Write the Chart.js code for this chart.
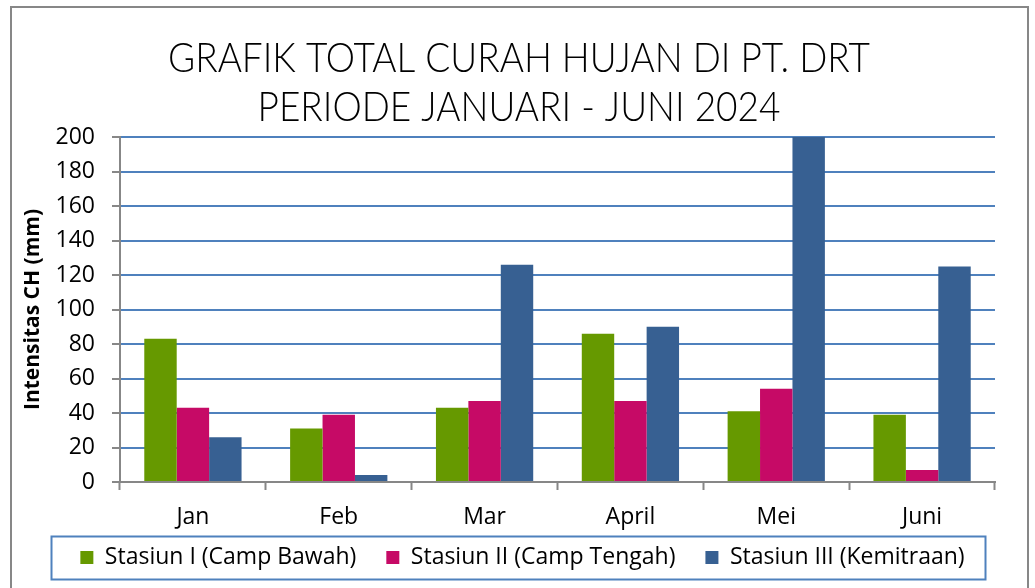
<!DOCTYPE html>
<html>
<head>
<meta charset="utf-8">
<script src="https://cdn.jsdelivr.net/npm/chart.js@4.4.1/dist/chart.umd.min.js"></script>
<style>
  html, body { margin: 0; padding: 0; background: #ffffff; }
  #wrap { width: 1035px; height: 588px; position: relative; }
</style>
</head>
<body>
<div id="wrap"><canvas id="c"></canvas></div>
<script>
const TITLE_LINES = ['GRAFIK TOTAL CURAH HUJAN DI PT. DRT', 'PERIODE JANUARI - JUNI 2024'];
const CATEGORIES = ['Jan', 'Feb', 'Mar', 'April', 'Mei', 'Juni'];
const SERIES_NAMES = ['Stasiun I (Camp Bawah)', 'Stasiun II (Camp Tengah)', 'Stasiun III (Kemitraan)'];
const STASIUN_I = [83, 31, 43, 86, 41, 39];
const STASIUN_II = [43, 39, 47, 47, 54, 7];
const STASIUN_III = [26, 4, 126, 90, 200, 125];
const Y_AXIS_TITLE = 'Intensitas CH (mm)';
const Y_MIN = 0, Y_MAX = 200, Y_STEP = 20;
const COLORS = ['#669900', '#C60A66', '#376092'];

const FONT = '"Open Sans", Lato, sans-serif';
const TITLE_FONT = 'Lato, "Open Sans", sans-serif';

const decorPlugin = {
  id: 'decor',
  afterLayout(chart) {
    // let the category labels overflow their box instead of being clipped
    const x = chart.scales.x;
    if (x) x.bottom += 24;
    // centre the legend row inside its framed box
    const lg = chart.legend;
    if (lg) { lg.left += 25; lg.right += 25; }
  },
  beforeDraw(chart) {
    const ctx = chart.ctx;
    ctx.save();
    ctx.fillStyle = '#ffffff';
    ctx.fillRect(0, 0, chart.width, chart.height);
    ctx.restore();
  },
  afterDraw(chart) {
    const ctx = chart.ctx;
    ctx.save();
    // outer frame
    ctx.strokeStyle = '#878787';
    ctx.lineWidth = 2;
    ctx.strokeRect(11, 7, 1017, 600);
    // legend frame
    ctx.strokeStyle = '#4F81BD';
    ctx.lineWidth = 2;
    ctx.strokeRect(51.5, 536.5, 934, 43);
    // title
    ctx.fillStyle = '#000000';
    ctx.font = '300 42px ' + TITLE_FONT;
    ctx.textAlign = 'center';
    ctx.textBaseline = 'alphabetic';
    const w0 = ctx.measureText(TITLE_LINES[0]).width;
    const sx = Math.min(1, 702 / w0);
    const baselines = [72, 121];
    TITLE_LINES.forEach((line, i) => {
      ctx.save();
      ctx.translate(519, baselines[i]);
      ctx.scale(sx, 1);
      ctx.fillText(line, 0, 0);
      ctx.restore();
    });
    ctx.restore();
  }
};

new Chart(document.getElementById('c'), {
  type: 'bar',
  data: {
    labels: CATEGORIES,
    datasets: [
      { label: SERIES_NAMES[0], data: STASIUN_I, backgroundColor: COLORS[0] },
      { label: SERIES_NAMES[1], data: STASIUN_II, backgroundColor: COLORS[1] },
      { label: SERIES_NAMES[2], data: STASIUN_III, backgroundColor: COLORS[2] }
    ]
  },
  options: {
    responsive: true,
    maintainAspectRatio: false,
    animation: false,
    datasets: { bar: { categoryPercentage: 0.667, barPercentage: 1.0 } },
    layout: { padding: { top: 137, left: 0, right: 40, bottom: 9 } },
    plugins: {
      title: { display: false },
      tooltip: { enabled: false },
      legend: {
        position: 'bottom',
        labels: {
          font: { family: FONT, size: 23 },
          color: '#000000',
          boxWidth: 13,
          boxHeight: 13,
          padding: 30
        }
      }
    },
    scales: {
      x: {
        offset: true,
        grid: {
          offset: true,
          drawOnChartArea: false,
          drawTicks: true,
          tickLength: 8,
          tickColor: '#878787',
          tickWidth: 2
        },
        border: { display: true, color: '#878787', width: 2 },
        ticks: {
          font: { family: FONT, size: 23 },
          color: '#000000',
          padding: 14
        },
        afterFit(scale) { scale.height = 34; }
      },
      y: {
        min: Y_MIN,
        max: Y_MAX,
        ticks: {
          stepSize: Y_STEP,
          font: { family: FONT, size: 23 },
          color: '#000000',
          padding: 17
        },
        grid: {
          color: (c) => (c.tick && c.tick.value === 0 ? '#878787' : '#4F81BD'),
          lineWidth: 2,
          tickLength: 8,
          tickColor: '#878787',
          tickWidth: 2
        },
        border: { display: true, color: '#878787', width: 2 },
        title: {
          display: true,
          text: Y_AXIS_TITLE,
          font: { family: FONT, size: 21, weight: 'bold' },
          color: '#000000',
          padding: { top: 20, bottom: 0 }
        },
        afterFit(scale) { scale.width = 120; }
      }
    }
  },
  plugins: [decorPlugin]
});
</script>
</body>
</html>
